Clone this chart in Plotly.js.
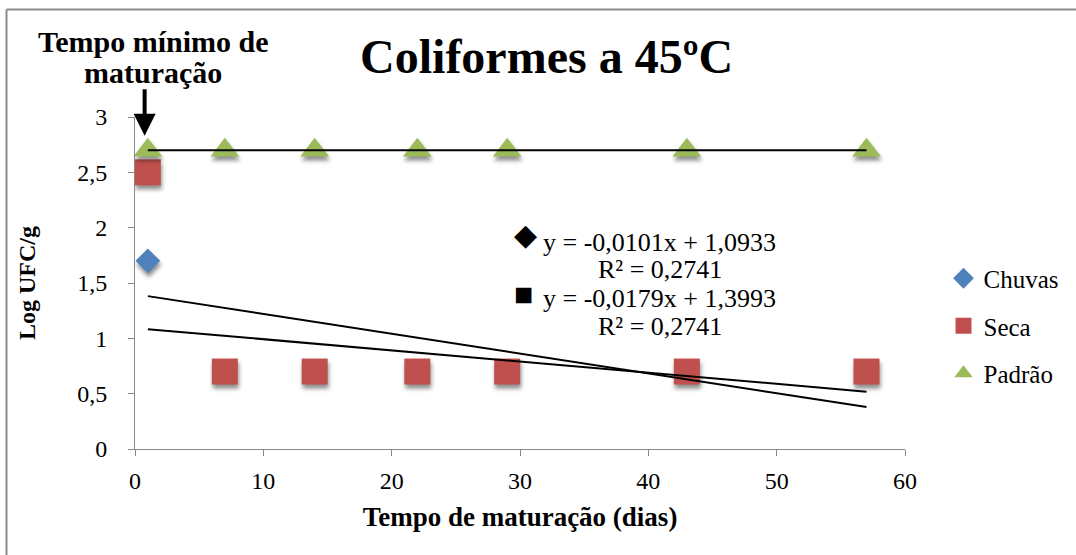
<!DOCTYPE html>
<html>
<head>
<meta charset="utf-8">
<script src="https://cdn.plot.ly/plotly-3.0.1.min.js"></script>
<style>
html,body{margin:0;padding:0;background:#fff;}
#chart{width:1076px;height:555px;}
#chart svg text{font-family:"Liberation Serif","Times New Roman","DejaVu Serif",serif !important;}
#chart .scatterlayer .points path{filter:drop-shadow(1px 4px 2px rgba(0,0,0,0.45));}
</style>
</head>
<body>
<div id="chart"></div>
<script>
// ---- data ----
const chuvasX = [1];
const chuvasY = [1.7];
const secaX = [1, 7, 14, 22, 29, 43, 57];
const secaY = [2.5, 0.7, 0.7, 0.7, 0.7, 0.7, 0.7];
const padraoX = [1, 7, 14, 22, 29, 43, 57];
const padraoY = [2.7, 2.7, 2.7, 2.7, 2.7, 2.7, 2.7];
// trendlines (as printed on the chart)
const trendSlopes = [-0.0101, -0.0179];
const trendIntercepts = [1.0933, 1.3993];
const trendR2 = [0.2741, 0.2741];
const trendXRange = [1, 57];
const seriesNames = ['Chuvas', 'Seca', 'Padrão'];
const xTicks = [0, 10, 20, 30, 40, 50, 60];
const yTicks = [0, 0.5, 1, 1.5, 2, 2.5, 3];

const serif = 'Liberation Serif';
const fmt = v => v.toString().replace('.', ',');

const traces = [
  {x: chuvasX, y: chuvasY, name: seriesNames[0], mode: 'markers', type: 'scatter',
   legendgroup: 'a', marker: {symbol: 'diamond', size: 19, color: '#4F81BD'}},
  {x: secaX, y: secaY, name: seriesNames[1], mode: 'markers', type: 'scatter',
   legendgroup: 'b', marker: {symbol: 'square', size: 26, color: '#C0504D'}},
  {x: padraoX, y: padraoY, name: seriesNames[2], mode: 'markers', type: 'scatter',
   legendgroup: 'c', marker: {symbol: 'triangle-up', size: 25, color: '#9BBB59'}},
  {x: padraoX, y: padraoY, mode: 'lines', type: 'scatter', showlegend: false,
   hoverinfo: 'skip', line: {color: '#000', width: 2}}
];
trendSlopes.forEach((m, i) => {
  traces.push({x: trendXRange, y: trendXRange.map(x => m * x + trendIntercepts[i]),
    mode: 'lines', type: 'scatter', showlegend: false, hoverinfo: 'skip',
    line: {color: '#000', width: 2}});
});

const eqText = i => 'y = ' + fmt(trendSlopes[i]) + 'x + ' + fmt(trendIntercepts[i]);
const r2Text = i => 'R² = ' + fmt(trendR2[i]);
const px = p => (p - 135) / 770;
const py = p => (449 - p) / 332;

const txt = (x, y, text, size, xa) => ({xref: 'paper', yref: 'paper', x: px(x), y: py(y),
  xanchor: xa || 'center', yanchor: 'middle', text: text, showarrow: false,
  font: {family: serif, size: size, color: '#000'}});

const annotations = [
  txt(153, 41, '<b>Tempo mínimo de</b>', 30),
  txt(153, 72, '<b>maturação</b>', 30),
  {xref: 'x', yref: 'y', x: 0.75, y: 2.83, ax: 0, ay: -48, text: '', showarrow: true,
   arrowhead: 2, arrowsize: 1.1, arrowwidth: 4, arrowcolor: '#000'},
  txt(512, 234, '◆', 30, 'left'),
  txt(541, 242, eqText(0), 26, 'left'),
  txt(660, 269, r2Text(0), 26),
  txt(512, 294, '■', 32, 'left'),
  txt(541, 298, eqText(1), 26, 'left'),
  txt(660, 326, r2Text(1), 26)
];

const layout = {
  width: 1076, height: 555,
  margin: {l: 135, r: 171, t: 117, b: 106},
  paper_bgcolor: '#fff', plot_bgcolor: '#fff',
  separators: ', ',
  title: {text: '<b>Coliformes a 45ºC</b>', x: 0.508, xanchor: 'center', y: 0.898, yanchor: 'middle',
          font: {family: serif, size: 48, color: '#000'}},
  font: {family: serif, color: '#000'},
  xaxis: {range: [0, 60], tickvals: xTicks, showgrid: false, zeroline: false,
          showline: true, linecolor: '#868686', linewidth: 1,
          ticks: 'outside', ticklen: 6, tickcolor: '#868686', ticklabelstandoff: 4,
          tickfont: {family: serif, size: 24, color: '#000'},
          title: {text: '<b>Tempo de maturação (dias)</b>', font: {family: serif, size: 27, color: '#000'}, standoff: 14}},
  yaxis: {range: [0, 3], tickvals: yTicks, showgrid: false, zeroline: false,
          showline: true, linecolor: '#868686', linewidth: 1,
          ticks: 'outside', ticklen: 6, tickcolor: '#868686', ticklabelstandoff: 16,
          tickfont: {family: serif, size: 24, color: '#000'},
          title: {text: '<b>Log UFC/g</b>', font: {family: serif, size: 24, color: '#000'}, standoff: 34}},
  legend: {x: 1.05, xanchor: 'left', y: py(326), yanchor: 'middle', traceorder: 'grouped', tracegroupgap: 12,
           font: {family: serif, size: 25, color: '#000'}, bgcolor: 'rgba(0,0,0,0)', itemwidth: 30},
  showlegend: true,
  annotations: annotations,
  shapes: [
    {type: 'line', xref: 'paper', yref: 'paper', x0: px(6.5), x1: px(1080), y0: py(9.5), y1: py(9.5),
     line: {color: '#8C8C8C', width: 2}},
    {type: 'line', xref: 'paper', yref: 'paper', x0: px(6.5), x1: px(6.5), y0: py(9.5), y1: py(560),
     line: {color: '#8C8C8C', width: 2}}
  ]
};

Plotly.newPlot('chart', traces, layout, {displayModeBar: false, staticPlot: true});
</script>
</body>
</html>
